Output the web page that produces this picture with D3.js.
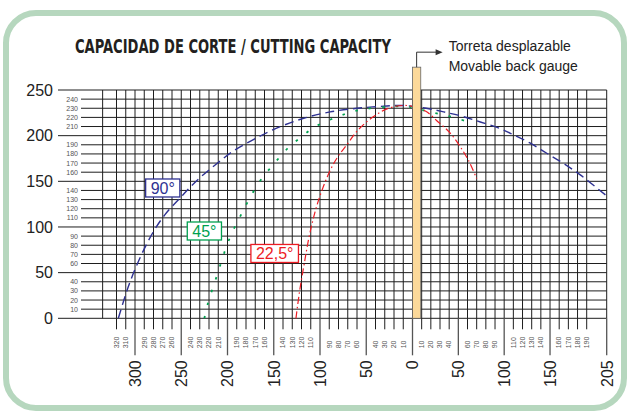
<!DOCTYPE html>
<html lang="es">
<head>
<meta charset="utf-8">
<script src="https://d3js.org/d3.v7.min.js"></script>
<style>
body { margin: 0; background: #fff; }
svg text { font-family: "Liberation Sans", Arial, sans-serif; }
.title { font-family: "Liberation Sans Narrow", "DejaVu Sans Condensed", sans-serif; font-weight: bold; }
</style>
</head>
<body>
<script>
// tick values (left side of the scale is stored as negative numbers)
var yMajor = [0, 50, 100, 150, 200, 250];
var yMinor = [10, 20, 30, 40, 60, 70, 80, 90, 110, 120, 130, 140, 160, 170, 180, 190, 210, 220, 230, 240];
var xMajor = [-300, -250, -200, -150, -100, -50, 0, 50, 100, 150, 205];
var xMinor = [-320, -310, -290, -280, -270, -260, -240, -230, -220, -210, -190, -180, -170, -160,
  -140, -130, -120, -110, -90, -80, -70, -60, -40, -30, -20, -10,
  10, 20, 30, 40, 60, 70, 80, 90, 110, 120, 130, 140, 160, 170, 180, 190];

// cutting capacity curves [x, height]
var curve90 = [[-318, 0], [-312, 20], [-306, 38], [-299, 56], [-290, 76], [-280, 95], [-268, 113],
  [-251, 132], [-233, 151], [-212, 169], [-194, 183], [-175, 194], [-154, 205], [-121, 218],
  [-89, 226], [-60, 230], [-35, 232], [-10, 233], [15, 230], [34, 226], [55, 221], [74, 215],
  [95, 208], [110, 201], [128, 192], [146, 181], [164, 170], [183, 157], [205, 134]];
var curve45 = [[-225, 0], [-221, 17], [-216, 33], [-211, 48], [-206, 64], [-201, 79], [-195, 94],
  [-188, 108], [-181, 122], [-173, 137], [-165, 150], [-155, 163], [-144, 176], [-133, 188],
  [-121, 198], [-108, 208], [-95, 215], [-80, 221], [-66, 226], [-49, 229.5], [-20, 232],
  [0, 231], [15, 227], [30, 223.5], [45, 220], [61, 215]];
var curve225 = [[-126, 0], [-122, 30], [-117, 60], [-111, 93], [-102, 128], [-89, 162], [-80, 178],
  [-71, 190], [-59, 206], [-42, 221], [-26, 230], [-6, 233], [14, 227], [28, 215], [41, 203],
  [52, 188], [61, 173], [70, 153]];

var seriesNames = ["90°", "45°", "22,5°"];
var gaugeTop = 275, gaugeWidth = 9;

var width = 627, height = 412;

var svg = d3.select("body").append("svg")
  .attr("width", width)
  .attr("height", height);

// frame
svg.append("rect")
  .attr("x", 6).attr("y", 13)
  .attr("width", 618).attr("height", 395)
  .attr("rx", 30)
  .style("fill", "#fff")
  .style("stroke", "#b6d7be")
  .style("stroke-width", 6);

var x = d3.scaleLinear()
  .domain([-320, 0, 190, 205])
  .range([116.5, 412.5, 586.7, 606.7]);

var y = d3.scaleLinear()
  .domain([0, 250])
  .range([318.3, 90]);

var gridRight = x(205);

// horizontal lines
var hlines = d3.range(0, 251, 10);
svg.append("g").selectAll("line")
  .data(hlines)
  .enter().append("line")
  .attr("x1", function(d) { return yMajor.indexOf(d) >= 0 ? 58 : 81; })
  .attr("x2", gridRight)
  .attr("y1", function(d) { return y(d); })
  .attr("y2", function(d) { return y(d); })
  .style("stroke", "#1e1e1e")
  .style("stroke-width", 1);

// vertical grid lines
var vlines = [-335].concat(xMinor, xMajor);
svg.append("g").selectAll("line")
  .data(vlines)
  .enter().append("line")
  .attr("x1", function(d) { return x(d); })
  .attr("x2", function(d) { return x(d); })
  .attr("y1", y(250))
  .attr("y2", y(0))
  .style("stroke", "#1e1e1e")
  .style("stroke-width", 1);

// x ticks below the axis
svg.append("g").selectAll("line")
  .data(xMinor)
  .enter().append("line")
  .attr("x1", function(d) { return x(d); })
  .attr("x2", function(d) { return x(d); })
  .attr("y1", y(0)).attr("y2", y(0) + 11)
  .style("stroke", "#1e1e1e");

svg.append("g").selectAll("line")
  .data(xMajor)
  .enter().append("line")
  .attr("x1", function(d) { return x(d); })
  .attr("x2", function(d) { return x(d); })
  .attr("y1", y(0)).attr("y2", y(0) + 37)
  .style("stroke", "#555")
  .style("stroke-width", 1.3);

svg.append("g").selectAll("text")
  .data(xMinor)
  .enter().append("text")
  .attr("transform", function(d) { return "translate(" + (x(d) + 2.3) + "," + (y(0) + 30) + ") rotate(-90)"; })
  .style("font-size", "7px")
  .style("fill", "#555")
  .text(function(d) { return Math.abs(d); });

svg.append("g").selectAll("text")
  .data(xMajor)
  .enter().append("text")
  .attr("transform", function(d) { return "translate(" + (x(d) + 5.8) + "," + (y(0) + 42) + ") rotate(-90)"; })
  .attr("text-anchor", "end")
  .style("font-size", "16px")
  .style("fill", "#222")
  .text(function(d) { return Math.abs(d); });

// y labels
svg.append("g").selectAll("text")
  .data(yMajor)
  .enter().append("text")
  .attr("x", 53)
  .attr("y", function(d) { return y(d) + 5.8; })
  .attr("text-anchor", "end")
  .style("font-size", "16px")
  .style("fill", "#222")
  .text(function(d) { return d; });

svg.append("g").selectAll("text")
  .data(yMinor)
  .enter().append("text")
  .attr("x", 78)
  .attr("y", function(d) { return y(d) + 2.5; })
  .attr("text-anchor", "end")
  .style("font-size", "7px")
  .style("fill", "#555")
  .text(function(d) { return d; });

// curves
var line = d3.line()
  .x(function(d) { return x(d[0]); })
  .y(function(d) { return y(d[1]); })
  .curve(d3.curveCatmullRom);

var curves = [
  { data: curve90, color: "#2e3192", dash: "9,5", w: 1.4 },
  { data: curve45, color: "#00a04f", dash: "2.5,11", w: 1.8 },
  { data: curve225, color: "#ed1c24", dash: "7,3,1.5,3", w: 1.2 }
];

svg.append("g").selectAll("path")
  .data(curves)
  .enter().append("path")
  .attr("d", function(d) { return line(d.data); })
  .style("fill", "none")
  .style("stroke", function(d) { return d.color; })
  .style("stroke-width", function(d) { return d.w; })
  .style("stroke-dasharray", function(d) { return d.dash; });

// back gauge
svg.append("rect")
  .attr("x", x(0))
  .attr("y", y(gaugeTop))
  .attr("width", x(gaugeWidth) - x(0))
  .attr("height", y(0) - y(gaugeTop))
  .style("fill", "#fcd99a")
  .style("stroke", "#666")
  .style("stroke-width", 0.8);

var gx = (x(0) + x(gaugeWidth)) / 2, gy = y(gaugeTop);
svg.append("path")
  .attr("d", "M" + gx + "," + gy + "V" + (gy - 15) + "H" + (gx + 20))
  .style("fill", "none")
  .style("stroke", "#333")
  .style("stroke-width", 1);
svg.append("path")
  .attr("d", "M" + (gx + 19) + "," + (gy - 18) + "L" + (gx + 26) + "," + (gy - 15) + "L" + (gx + 19) + "," + (gy - 12) + "Z")
  .style("fill", "#333");

svg.append("text")
  .attr("x", gx + 32).attr("y", gy - 16.5)
  .style("font-size", "14px")
  .style("fill", "#222")
  .text("Torreta desplazable");
svg.append("text")
  .attr("x", gx + 32).attr("y", gy + 3.5)
  .style("font-size", "14px")
  .style("fill", "#222")
  .text("Movable back gauge");

// series labels
var labelPos = [[-270, 142.7], [-225, 95.6], [-149, 71]];
seriesNames.forEach(function(name, i) {
  var g = svg.append("g")
    .attr("transform", "translate(" + x(labelPos[i][0]) + "," + y(labelPos[i][1]) + ")");
  var box = g.append("rect");
  var t = g.append("text")
    .attr("text-anchor", "middle")
    .attr("y", 5.8)
    .style("font-size", "16px")
    .style("fill", curves[i].color)
    .text(name);
  var tw = t.node().getComputedTextLength() + 10;
  box.attr("x", -tw / 2).attr("y", -9)
    .attr("width", tw).attr("height", 18)
    .style("fill", "#fff")
    .style("stroke", curves[i].color)
    .style("stroke-width", 1.3);
});

// title, squeezed horizontally to the width of the original
var title = svg.append("text")
  .attr("class", "title")
  .style("font-size", "20px")
  .style("fill", "#231f20")
  .text("CAPACIDAD DE CORTE / CUTTING CAPACITY");
var tl = title.node().getComputedTextLength();
title.attr("transform", "translate(75,52.7) scale(" + (316 / tl) + ",1)");
</script>
</body>
</html>
